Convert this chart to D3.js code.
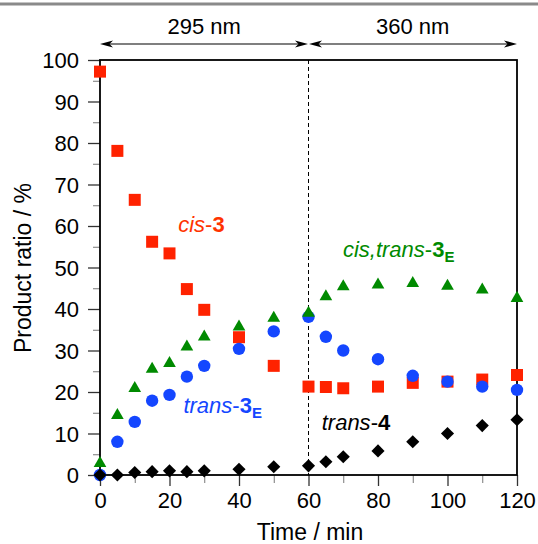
<!DOCTYPE html>
<html>
<head>
<meta charset="utf-8">
<script src="https://cdn.jsdelivr.net/npm/d3@7"></script>
<style>
  html, body { margin: 0; padding: 0; background: #fff; }
  svg { display: block; font-family: "Liberation Sans", Arial, Helvetica, sans-serif; }
</style>
</head>
<body>
<svg id="chart" width="538" height="544"></svg>
<script>
// ---- data ----
const times      = [0, 5, 10, 15, 20, 25, 30, 40, 50, 60, 65, 70, 80, 90, 100, 110, 120];
const cis3       = [97.2, 78.1, 66.3, 56.2, 53.4, 44.8, 39.8, 33.2, 26.3, 21.3, 21.2, 20.9, 21.3, 22.2, 22.5, 23.0, 24.1];
const trans3E    = [0.0, 8.0, 12.8, 17.9, 19.3, 23.7, 26.3, 30.4, 34.6, 38.1, 33.3, 30.0, 27.9, 23.9, 22.5, 21.3, 20.5];
const cisTrans3E = [2.8, 14.4, 20.9, 25.5, 26.9, 30.9, 33.3, 35.7, 37.8, 39.0, 43.0, 45.4, 45.8, 46.2, 45.5, 44.6, 42.6];
const trans4     = [0.0, 0.0, 0.6, 0.8, 1.0, 0.8, 1.0, 1.4, 2.0, 2.2, 3.2, 4.4, 5.8, 8.0, 10.0, 11.9, 13.3];
const xTicks      = [0, 20, 40, 60, 80, 100, 120];
const xMinorTicks = [10, 30, 50, 70, 90, 110];
const yTicks      = [0, 10, 20, 30, 40, 50, 60, 70, 80, 90, 100];
const yMinorTicks = [5, 15, 25, 35, 45, 55, 65, 75, 85, 95];
const switchTime  = 60;
const phaseLabels = ["295 nm", "360 nm"];

const RED = "#ff2200", BLUE = "#1446ff", GREEN = "#008a00", BLACK = "#000";

const svg = d3.select("#chart");
const x = d3.scaleLinear().domain([0, 120]).range([100, 517]);
const y = d3.scaleLinear().domain([0, 100]).range([475, 60]);
const FONT = "Liberation Sans, Arial, Helvetica, sans-serif";

// top gray rule
svg.append("rect").attr("x", 0).attr("y", 2.5).attr("width", 538).attr("height", 3).attr("fill", "#8a8a8a");

// axes ticks
function styleAxis(g, color, width) {
  g.select(".domain").remove();
  g.selectAll(".tick line").attr("stroke", color).attr("stroke-width", width);
  g.selectAll(".tick text").attr("fill", "#000").attr("font-size", 22).attr("font-family", FONT);
}
svg.append("g").attr("transform", `translate(${x(0)},0)`)
  .call(d3.axisLeft(y).tickValues(yMinorTicks).tickSize(7).tickFormat(""))
  .call(g => styleAxis(g, "#777", 1));
svg.append("g").attr("transform", `translate(${x(0)},0)`)
  .call(d3.axisLeft(y).tickValues(yTicks).tickSize(12).tickPadding(9).tickFormat(d3.format("d")))
  .call(g => styleAxis(g, "#333", 1.3))
  .call(g => g.selectAll(".tick text").attr("dy", "0.36em"));
svg.append("g").attr("transform", `translate(0,${y(0)})`)
  .call(d3.axisBottom(x).tickValues(xMinorTicks).tickSize(8).tickFormat(""))
  .call(g => styleAxis(g, "#777", 1));
svg.append("g").attr("transform", `translate(0,${y(0)})`)
  .call(d3.axisBottom(x).tickValues(xTicks).tickSize(11).tickPadding(22).tickFormat(d3.format("d")))
  .call(g => styleAxis(g, "#333", 1.3))
  .call(g => g.selectAll(".tick text").attr("dy", "0"));

// frame
svg.append("rect")
  .attr("x", x(0)).attr("y", y(100))
  .attr("width", x(120) - x(0)).attr("height", y(0) - y(100))
  .attr("fill", "none").attr("stroke", "#000").attr("stroke-width", 1.8);

// dashed switch line
svg.append("line")
  .attr("x1", x(switchTime)).attr("x2", x(switchTime))
  .attr("y1", y(100)).attr("y2", y(0))
  .attr("stroke", "#000").attr("stroke-width", 1).attr("stroke-dasharray", "4,3");

// top double arrows
const arrowY = 44;
function head(tipX, dir) {
  // dir = +1 pointing right, -1 pointing left
  const L = 13, W = 3.6, N = 9.5;
  return `M${tipX},${arrowY} L${tipX - dir * L},${arrowY - W} L${tipX - dir * N},${arrowY} L${tipX - dir * L},${arrowY + W} Z`;
}
function dblArrow(a, b) {
  svg.append("line").attr("x1", a + 4).attr("x2", b - 4).attr("y1", arrowY).attr("y2", arrowY)
    .attr("stroke", "#000").attr("stroke-width", 1.1);
  svg.append("path").attr("d", head(a, -1)).attr("fill", "#000");
  svg.append("path").attr("d", head(b, 1)).attr("fill", "#000");
}
dblArrow(x(0), x(switchTime) - 0.5);
dblArrow(x(switchTime) + 0.5, x(120));
svg.append("text").attr("x", (x(0) + x(switchTime)) / 2).attr("y", 34)
  .attr("text-anchor", "middle").attr("font-size", 22).text(phaseLabels[0]);
svg.append("text").attr("x", (x(switchTime) + x(120)) / 2).attr("y", 34)
  .attr("text-anchor", "middle").attr("font-size", 22).text(phaseLabels[1]);

// axis titles
svg.append("text").attr("x", 310).attr("y", 540).attr("text-anchor", "middle")
  .attr("font-size", 23).text("Time / min");
svg.append("text").attr("transform", "translate(31,268) rotate(-90)").attr("text-anchor", "middle")
  .attr("font-size", 23).text("Product ratio / %");

// markers
const pts = arr => times.map((t, i) => ({ t, v: arr[i] }));
svg.append("g").selectAll("path").data(pts(cis3)).join("path")
  .attr("d", d3.symbol(d3.symbolSquare, 144)())
  .attr("transform", d => `translate(${x(d.t)},${y(d.v)})`).attr("fill", RED);
svg.append("g").selectAll("circle").data(pts(trans3E)).join("circle")
  .attr("cx", d => x(d.t)).attr("cy", d => y(d.v)).attr("r", 6.2).attr("fill", BLUE);
svg.append("g").selectAll("path").data(pts(cisTrans3E)).join("path")
  .attr("d", d3.symbol(d3.symbolTriangle, 70)())
  .attr("transform", d => `translate(${x(d.t)},${y(d.v)})`).attr("fill", GREEN);
svg.append("g").selectAll("path").data(pts(trans4)).join("path")
  .attr("d", d3.symbol(d3.symbolSquare, 86)())
  .attr("transform", d => `translate(${x(d.t)},${y(d.v)}) rotate(45)`).attr("fill", BLACK);

// series labels
function label(tx, vy, color, parts) {
  const t = svg.append("text").attr("x", x(tx)).attr("y", y(vy)).attr("font-size", 22).attr("fill", color);
  parts.forEach(p => {
    const s = t.append("tspan").text(p.text);
    if (p.italic) s.attr("font-style", "italic");
    if (p.bold) s.attr("font-weight", "bold");
    if (p.sub) s.attr("font-size", 15).attr("dy", 5);
  });
}
label(22.5, 58.6, "#ff3300", [{ text: "cis", italic: true }, { text: "-" }, { text: "3", bold: true }]);
label(24.0, 14.9, BLUE, [{ text: "trans", italic: true }, { text: "-" }, { text: "3", bold: true }, { text: "E", bold: true, sub: true }]);
label(63.8, 10.8, BLACK, [{ text: "trans", italic: true }, { text: "-" }, { text: "4", bold: true }]);
label(69.9, 52.5, GREEN, [{ text: "cis,trans", italic: true }, { text: "-" }, { text: "3", bold: true }, { text: "E", bold: true, sub: true }]);
</script>
</body>
</html>
